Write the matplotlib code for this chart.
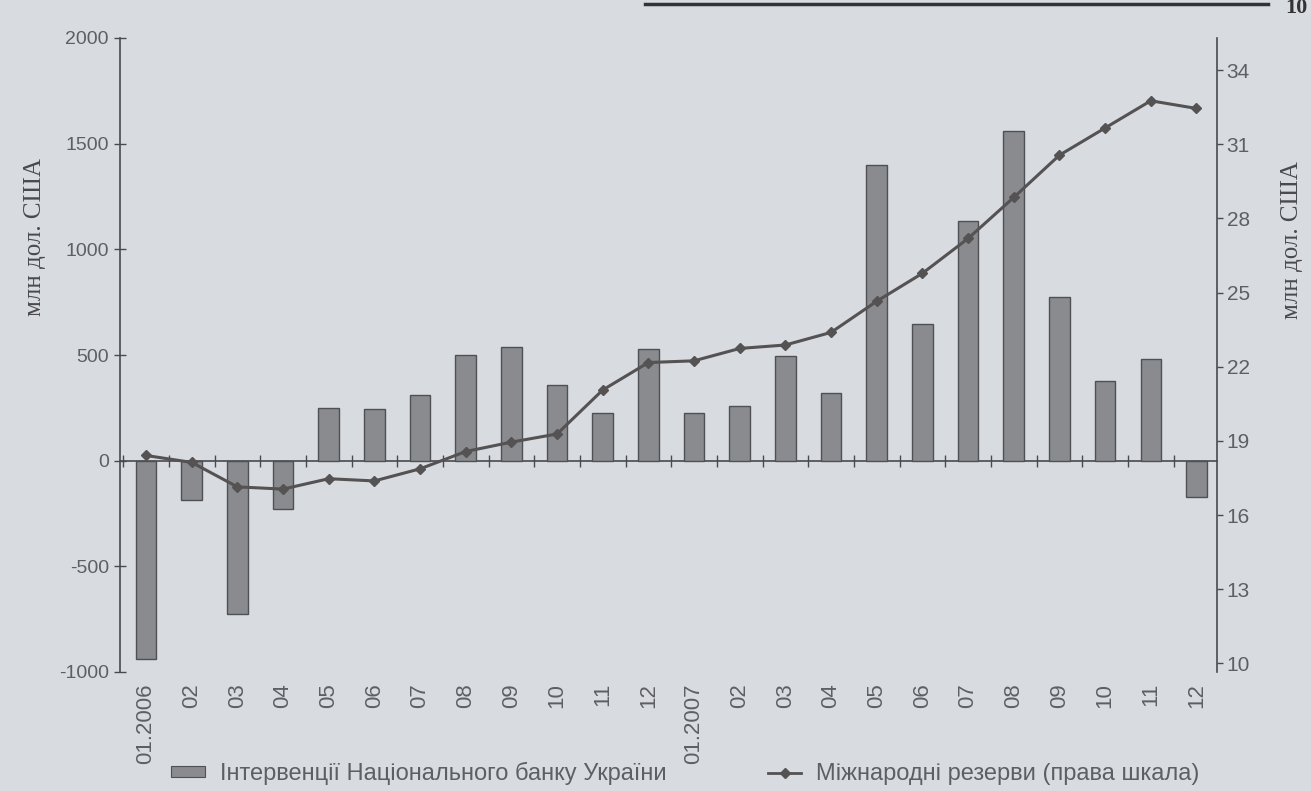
import matplotlib
matplotlib.use("Agg")
import matplotlib.pyplot as plt
from matplotlib.lines import Line2D
from matplotlib.patches import Patch
import numpy as np

# months, 2006-2007
months = ['01.2006', '02', '03', '04', '05', '06', '07', '08', '09', '10', '11', '12',
          '01.2007', '02', '03', '04', '05', '06', '07', '08', '09', '10', '11', '12']

# NBU interventions, mln USD (left scale)
interventions = [-940, -185, -725, -230, 250, 245, 310, 500, 540, 360, 225, 530,
                 225, 260, 495, 320, 1400, 645, 1135, 1560, 775, 375, 480, -170]

# international reserves, bn USD (right scale)
reserves = [18.41, 18.13, 17.14, 17.05, 17.47, 17.38, 17.87, 18.57, 18.95, 19.28, 21.06, 22.17,
            22.24, 22.74, 22.88, 23.39, 24.65, 25.78, 27.19, 28.85, 30.56, 31.66, 32.76, 32.45]

left_ticks = [-1000, -500, 0, 500, 1000, 1500, 2000]
right_ticks = [10, 13, 16, 19, 22, 25, 28, 31, 34]

bar_label = 'Інтервенції Національного банку України'
line_label = 'Міжнародні резерви (права шкала)'
y_label = 'млн дол. США'

paper = '#d8dce1'
ink = '#4a4a4d'
soft_ink = '#5e5f63'
bar_fill = '#898b8f'
bar_edge = '#4f5054'
line_col = '#545252'

plt.rcParams['font.family'] = ['Liberation Sans', 'DejaVu Sans']
plt.rcParams['axes.unicode_minus'] = False

W, H = 1311, 791
fig = plt.figure(figsize=(W / 100, H / 100), dpi=100, facecolor=paper)
ax = fig.add_axes([120 / W, 1 - 672 / H, (1217 - 120) / W, (672 - 38) / H])
ax.set_facecolor('none')

x = np.arange(len(months))
ax.bar(x, interventions, width=0.45, color=bar_fill, edgecolor=bar_edge, linewidth=1.0, zorder=2)
ax.set_xlim(-0.57, len(months) - 0.55)
ax.set_ylim(-1000, 2000)
ax.set_yticks(left_ticks)
ax.tick_params(axis='y', direction='inout', length=8, width=1, colors=ink, labelsize=14, pad=4)
for lbl in ax.get_yticklabels():
    lbl.set_color(soft_ink)

for s in ['top', 'right', 'bottom']:
    ax.spines[s].set_visible(False)
ax.spines['left'].set_color(ink)
ax.spines['left'].set_linewidth(1.2)

# category labels along the bottom
ax.set_xticks(x)
ax.set_xticklabels(months, rotation=90, fontsize=16, color=soft_ink)
ax.tick_params(axis='x', length=0, pad=8)

# zero line with category boundary ticks
zero = ax.secondary_xaxis(1 / 3)
zero.set_xticks(np.arange(len(months) + 1) - 0.5)
zero.set_xticklabels([])
zero.tick_params(direction='inout', length=8, width=1, colors=ink)
zero.spines['bottom'].set_color(ink)
zero.spines['bottom'].set_linewidth(1.2)

ax2 = ax.twinx()
ax2.plot(x, reserves, color=line_col, linewidth=2.2, marker='D', markersize=5.5,
         markerfacecolor=line_col, markeredgecolor=line_col, zorder=3)
ax2.set_ylim(9.65, 35.3)
ax2.set_yticks(right_ticks)
ax2.tick_params(axis='y', direction='out', length=4, width=1, colors=ink, labelsize=15, pad=3)
for lbl in ax2.get_yticklabels():
    lbl.set_color(soft_ink)
for s in ['top', 'left', 'bottom']:
    ax2.spines[s].set_visible(False)
ax2.spines['right'].set_color(ink)
ax2.spines['right'].set_linewidth(1.2)

# axis titles
fig.text(35 / W, 1 - 237 / H, y_label, rotation=90, ha='center', va='center',
         fontsize=18, color=ink, family='Liberation Serif')
fig.text(1292 / W, 1 - 240 / H, y_label, rotation=90, ha='center', va='center',
         fontsize=18, color=ink, family='Liberation Serif')

# legend
handles = [Patch(facecolor=bar_fill, edgecolor=bar_edge, linewidth=0.8),
           Line2D([], [], color=line_col, linewidth=2, marker='D', markersize=5)]
fig.legend(handles, [bar_label, line_label], loc='center', bbox_to_anchor=(0.523, 1 - 773 / H),
           ncol=2, frameon=False, fontsize=17, handlelength=1.4, handleheight=0.35,
           handletextpad=0.65, columnspacing=4.3, labelcolor=soft_ink, borderpad=0.2)

# page header rule and page number
fig.add_artist(Line2D([645 / W, 1268 / W], [1 - 4 / H, 1 - 4 / H], color='#333333', linewidth=2.5))
fig.text(1285 / W, 1 - 8 / H, '10', ha='left', va='center', fontsize=16, fontweight='bold',
         color='#333333', family='Liberation Serif')

fig.savefig('out.png', dpi=100, facecolor=paper)
